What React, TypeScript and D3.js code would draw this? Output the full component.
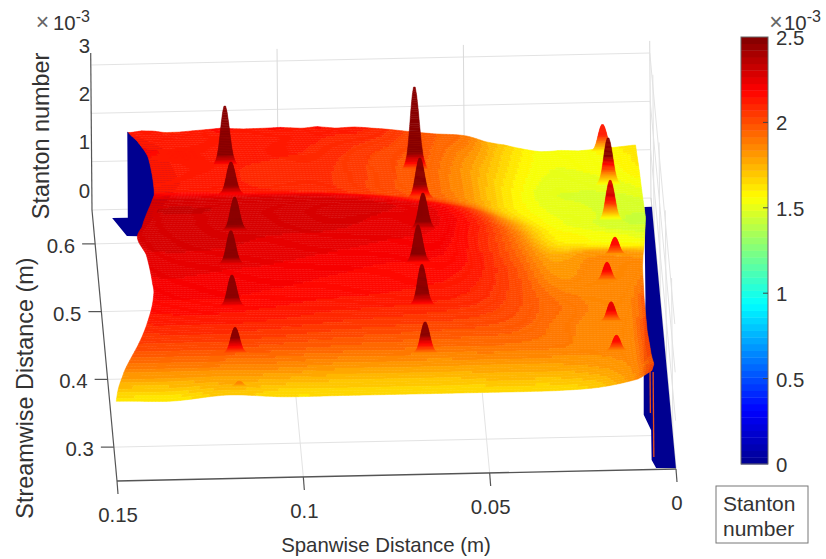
import React from "react";
import * as d3 from "d3";

const W = 826, H = 559;

// ---- data (St in units of 1e-3) ----
const spanGrid = [0.148, 0.135, 0.12, 0.105, 0.09, 0.075, 0.06, 0.05, 0.04, 0.03, 0.02, 0.01, 0.004];
const streamGrid = [0.252, 0.265, 0.28, 0.3, 0.33, 0.36, 0.4, 0.44, 0.47, 0.49, 0.505, 0.52, 0.55, 0.58, 0.612];
const row0252 = [1.62, 1.6, 1.7, 1.64, 1.64, 1.64, 1.64, 1.64, 1.64, 1.65, 1.7, 1.85, 2.1];
const row0265 = [1.72, 1.72, 1.76, 1.72, 1.7, 1.7, 1.7, 1.72, 1.72, 1.72, 1.76, 1.85, 2.05];
const row0280 = [1.86, 1.86, 1.86, 1.84, 1.8, 1.79, 1.79, 1.8, 1.8, 1.8, 1.82, 1.87, 2.08];
const row0300 = [2.0, 2.0, 2.0, 1.97, 1.94, 1.92, 1.91, 1.91, 1.9, 1.88, 1.85, 1.88, 2.1];
const row0330 = [2.1, 2.12, 2.12, 2.1, 2.07, 2.05, 2.03, 2.01, 1.97, 1.9, 1.86, 1.88, 2.1];
const row0360 = [2.17, 2.19, 2.19, 2.17, 2.15, 2.14, 2.12, 2.08, 2.0, 1.92, 1.87, 1.87, 2.05];
const row0400 = [2.22, 2.24, 2.23, 2.22, 2.2, 2.18, 2.17, 2.12, 2.0, 1.85, 1.85, 1.85, 1.9];
const row0440 = [2.26, 2.28, 2.28, 2.26, 2.25, 2.23, 2.21, 2.12, 1.95, 1.78, 1.82, 1.82, 1.8];
const row0470 = [2.28, 2.3, 2.3, 2.29, 2.29, 2.26, 2.23, 2.12, 1.9, 1.65, 1.6, 1.58, 1.58];
const row0490 = [2.28, 2.3, 2.3, 2.29, 2.29, 2.27, 2.2, 2.05, 1.8, 1.6, 1.55, 1.52, 1.5];
const row0505 = [2.24, 2.25, 2.25, 2.25, 2.24, 2.18, 2.06, 1.92, 1.7, 1.56, 1.5, 1.46, 1.45];
const row0520 = [2.15, 2.15, 2.14, 2.12, 2.1, 2.03, 1.95, 1.82, 1.63, 1.53, 1.5, 1.45, 1.44];
const row0550 = [2.15, 2.13, 2.12, 2.1, 2.08, 2.02, 1.93, 1.8, 1.62, 1.5, 1.48, 1.48, 1.5];
const row0580 = [2.15, 2.15, 2.13, 2.12, 2.1, 2.03, 1.95, 1.82, 1.65, 1.53, 1.52, 1.55, 1.6];
const row0612 = [2.12, 2.12, 2.13, 2.12, 2.12, 2.1, 1.97, 1.9, 1.68, 1.55, 1.55, 1.58, 1.62];
const stantonRows = [row0252, row0265, row0280, row0300, row0330, row0360, row0400, row0440, row0470, row0490, row0505, row0520, row0550, row0580, row0612];

// Small ripple along the back edge
const rippleSpan = [0.14, 0.137, 0.134, 0.131, 0.127, 0.123, 0.119, 0.116, 0.11, 0.104, 0.1, 0.094, 0.09, 0.085, 0.08, 0.075, 0.07, 0.05, 0.045, 0.04, 0.03, 0.025, 0.02, 0.015, 0.01];
const rippleSt = [0, 0.03, 0.02, -0.02, -0.02, 0, 0.02, 0.04, 0.02, 0.03, 0.04, 0.01, 0.04, 0, 0.02, 0, 0, 0, -0.02, 0.02, -0.01, 0.02, -0.01, 0.01, 0.02];

// Left (cut-out) and right limits of the measured surface
const leftStream = [0.252, 0.274, 0.307, 0.338, 0.366, 0.381, 0.421, 0.445, 0.46, 0.503, 0.529, 0.573, 0.598, 0.6146];
const leftSpan = [0.15, 0.148, 0.143, 0.1397, 0.138, 0.138, 0.139, 0.141, 0.1395, 0.136, 0.1352, 0.136, 0.1385, 0.1409];
const rightStream = [0.252, 0.262, 0.2765, 0.31, 0.3575, 0.417, 0.519, 0.56, 0.612];
const rightSpan = [0.0062, 0.0055, 0.006, 0.0065, 0.0065, 0.006, 0.0035, 0.004, 0.0046];

// Heated-jet spikes: span, stream, peak St
const jetSpan = [
  0.1155, 0.1147, 0.1147, 0.1165, 0.1172, 0.1173, 0.1168,
  0.0646, 0.064, 0.0642, 0.0663, 0.0662, 0.0663,
  0.0135, 0.0127, 0.013, 0.013, 0.0158, 0.0157, 0.015,
];
const jetStream = [
  0.561, 0.514, 0.453, 0.407, 0.3495, 0.295, 0.262,
  0.561, 0.514, 0.453, 0.407, 0.35, 0.295,
  0.608, 0.564, 0.5135, 0.438, 0.3985, 0.338, 0.295,
];
const jetPeak = [
  3.34, 2.84, 2.97, 2.92, 2.81, 2.49, 1.84,
  3.65, 2.84, 2.97, 2.96, 2.94, 2.52,
  2.13, 2.47, 2.3, 2.18, 2.22, 2.25, 2.16,
];
const jetHeight = [0, 0.07, 0.16, 0.3, 0.5, 0.72, 0.9, 1];
const jetWidth = [1, 0.8, 0.66, 0.54, 0.42, 0.3, 0.18, 0.07];

// Zero-valued (blue) parts of the data: [span, stream, St]
const blueLeft = [
  [0.1409, 0.6146, 2.1], [0.1406, 0.6375, 0], [0.1448, 0.6375, 0], [0.1413, 0.6106, 0],
  [0.1381, 0.61, 0], [0.128, 0.53, 2.2], [0.132, 0.59, 2.1],
];
const blueRight = [
  [0.002, 0.637, 0], [0, 0.637, 0], [0, 0.2515, 0], [0.0053, 0.252, 0], [0.0063, 0.264, 0],
  [0.0057, 0.308, 0], [0.0073, 0.331, 0], [0.0062, 0.397, 0], [0.004, 0.5, 0],
];
const edgeStrips = [
  [0.0067, 0.253, 2.0, 1.13],
  [0.0059, 0.2513, 2.0, 0.24],
];

const spanTicks = [0.15, 0.1, 0.05, 0];
const spanTickLabels = ["0.15", "0.1", "0.05", "0"];
const streamTicks = [0.3, 0.4, 0.5, 0.6];
const stantonTicks = [0, 1, 2, 3];
const colorTicks = [0, 0.5, 1, 1.5, 2, 2.5];

// ---- projection ----
const spanMin = 0, spanMax = 0.15, streamMin = 0.25, streamMax = 0.65, stMax = 3.25;
const spanToX = d3.scaleLinear().domain([spanMax, spanMin]).range([0, 559]);
const spanToY = d3.scaleLinear().domain([spanMax, spanMin]).range([0, -12]);
const streamToX = d3.scaleLinear().domain([streamMin, streamMax]).range([0, -25]);
const streamToY = d3.scaleLinear().domain([streamMin, streamMax]).range([0, -271]);
const stToY = d3.scaleLinear().domain([0, 3]).range([0, -145]);
const project = (s: number, r: number, z: number): [number, number] => [
  117 + spanToX(s) + streamToX(r) - 0.4 * z,
  481 + spanToY(s) + streamToY(r) + stToY(z),
];
const poly = (p: [number, number][]) => {
  const path = d3.path();
  p.forEach((q, i) => (i ? path.lineTo(q[0], q[1]) : path.moveTo(q[0], q[1])));
  path.closePath();
  return path.toString();
};

// ---- colours ----
const jet = d3.scaleLinear<string>()
  .domain([0, 0.125, 0.375, 0.625, 0.875, 1].map((t) => t * 2.5))
  .range(["#000090", "#0000ff", "#00ffff", "#ffff00", "#ff0000", "#800000"])
  .interpolate(d3.interpolateRgb)
  .clamp(true);
const levels = 64;
const levelColor = d3.range(levels).map((i) => jet(((i + 0.5) / levels) * 2.5));
const colorOf = (z: number) => levelColor[Math.max(0, Math.min(levels - 1, Math.floor((z / 2.5) * levels)))];

// ---- surface lookup ----
const cr = (a: number, b: number, c: number, d: number, t: number) =>
  0.5 * (2 * b + (c - a) * t + (2 * a - 5 * b + 4 * c - d) * t * t + (3 * b - a - 3 * c + d) * t * t * t);
const clampI = (i: number, n: number) => Math.max(0, Math.min(n - 1, i));
const smoothLimit = (xs: number[], ys: number[]) => {
  const idx = d3.scaleLinear().domain(xs).range(xs.map((_, i) => i)).clamp(true);
  return (x: number) => {
    const f = idx(x), i = Math.floor(f), t = f - i, n = ys.length;
    return cr(ys[clampI(i - 1, n)], ys[clampI(i, n)], ys[clampI(i + 1, n)], ys[clampI(i + 2, n)], t);
  };
};
const spanIndex = d3.scaleLinear().domain(spanGrid).range(spanGrid.map((_, i) => i)).clamp(true);
const streamIndex = d3.scaleLinear().domain(streamGrid).range(streamGrid.map((_, i) => i)).clamp(true);
const leftLimit = smoothLimit(leftStream, leftSpan);
const rightLimit = d3.scaleLinear().domain(rightStream).range(rightSpan).clamp(true);
const ripple = d3.scaleLinear().domain(rippleSpan).range(rippleSt).clamp(true);
const cell = (j: number, i: number) => stantonRows[clampI(j, stantonRows.length)][clampI(i, spanGrid.length)];
const stantonAt = (s: number, r: number) => {
  const fi = spanIndex(s), fj = streamIndex(r);
  const i = Math.floor(fi), j = Math.floor(fj), u = fi - i, v = fj - j;
  const rowAt = (jj: number) => cr(cell(jj, i - 1), cell(jj, i), cell(jj, i + 1), cell(jj, i + 2), u);
  const base = cr(rowAt(j - 1), rowAt(j), rowAt(j + 1), rowAt(j + 2), v);
  return base + ripple(s) * Math.max(0, (r - 0.6) / 0.012);
};

type Item = { stream: number; key: string; paths: { d: string; c: string }[] };

function surfaceItems(): Item[] {
  const rows = 125, cols = 150;
  const streamAt = d3.scaleLinear().domain([0, rows]).range([streamGrid[0], streamGrid[streamGrid.length - 1]]);
  const items: Item[] = [];
  for (let j = 0; j < rows; j++) {
    const r0 = streamAt(j), r1 = streamAt(j + 1);
    const groups = new Map<string, string>();
    for (let i = 0; i < cols; i++) {
      const u0 = i / cols, u1 = (i + 1) / cols;
      const s = (r: number, u: number) => leftLimit(r) + (rightLimit(r) - leftLimit(r)) * u;
      const corners: [number, number][] = [
        [s(r0, u0), r0], [s(r0, u1), r0], [s(r1, u1), r1], [s(r1, u0), r1],
      ].map(([a, b]) => project(a, b, stantonAt(a, b)));
      const c = colorOf(stantonAt(s((r0 + r1) / 2, (u0 + u1) / 2), (r0 + r1) / 2));
      groups.set(c, (groups.get(c) || "") + poly(corners));
    }
    items.push({
      stream: (r0 + r1) / 2,
      key: "s" + j,
      paths: Array.from(groups, ([c, d]) => ({ c, d })),
    });
  }
  return items;
}

function jetItems(): Item[] {
  const radius = 0.0033;
  const heightToWidth = d3.scaleLinear().domain(jetHeight).range(jetWidth);
  return jetSpan.map((s, k) => {
    const r = jetStream[k];
    const z0 = stantonAt(s, r);
    const peak = jetPeak[k];
    const scale = Math.min(1, 0.72 + (peak - z0) / 2);
    const n = 36;
    const paths: { d: string; c: string }[] = [];
    for (let i = 0; i < n; i++) {
      const t0 = i / n, t1 = (i + 1) / n;
      const z = (t: number) => z0 + (peak - z0) * t;
      const w = (t: number) => radius * scale * heightToWidth(t);
      const a = project(s + w(t0), r, z(t0));
      const b = project(s - w(t0), r, z(t0));
      const c = project(s - w(t1), r, z(t1));
      const e = project(s + w(t1), r, z(t1));
      paths.push({ d: poly([a, b, c, e]), c: colorOf(z(Math.min(1, ((t0 + t1) / 2) * 1.6))) });
    }
    return { stream: r, key: "j" + k, paths };
  });
}

const gridColor = "#e3e3e3";
const axisColor = "#555";
const textColor = "#333";
const fontFamily = "'Liberation Sans', Arial, sans-serif";

function Line({ a, b, c = gridColor, w = 1 }: { a: [number, number]; b: [number, number]; c?: string; w?: number }) {
  return <line x1={a[0]} y1={a[1]} x2={b[0]} y2={b[1]} stroke={c} strokeWidth={w} />;
}

function Exponent({ xTimes, xTen }: { xTimes: number; xTen: number }) {
  return (
    <g fill={textColor} fontFamily={fontFamily}>
      <text x={xTimes} y={30} fontSize={23} fill="#666" textAnchor="middle">×</text>
      <text x={xTen} y={30} fontSize={20.4}>10</text>
      <text x={xTen + 22.7} y={21.5} fontSize={16}>-3</text>
    </g>
  );
}

export default function App() {
  const items = React.useMemo(() => [...surfaceItems(), ...jetItems()].sort((a, b) => b.stream - a.stream), []);
  const colorY = d3.scaleLinear().domain([0, 2.5]).range([464, 37]);
  const xAxisA = project(spanMax, streamMin, 0);
  const xAxisB = project(spanMin, streamMin, 0);
  return (
    <svg width={W} height={H} viewBox={`0 0 ${W} ${H}`} style={{ position: "absolute", left: 0, top: 0, background: "#fff" }}>
      {/* grid: back wall */}
      {stantonTicks.map((z) => (
        <Line key={"bz" + z} a={project(spanMax, streamMax, z)} b={project(spanMin, streamMax, z)} />
      ))}
      {[0.1, 0.05, 0].map((s) => (
        <Line key={"bx" + s} a={project(s, streamMax, 0)} b={project(s, streamMax, stMax)} c={"#dadada"} />
      ))}
      {/* grid: floor */}
      {streamTicks.map((r) => (
        <Line key={"fy" + r} a={project(spanMax, r, 0)} b={project(spanMin, r, 0)} />
      ))}
      {[0.1, 0.05].map((s) => (
        <Line key={"fx" + s} a={project(s, streamMax, 0)} b={project(s, streamMin, 0)} />
      ))}
      {/* grid: right wall */}
      {stantonTicks.map((z) => (
        <Line key={"rz" + z} a={project(spanMin, streamMax, z)} b={project(spanMin, streamMin, z)} />
      ))}
      {streamTicks.map((r) => (
        <Line key={"ry" + r} a={project(spanMin, r, 0)} b={project(spanMin, r, stMax)} />
      ))}
      <Line a={project(spanMin, streamMax, 0)} b={project(spanMin, streamMin, 0)} c="#cfcfcf" />

      {/* axes */}
      <Line a={project(spanMax, streamMax, stMax)} b={project(spanMax, streamMax, 0)} c={axisColor} w={1.2} />
      <Line a={project(spanMax, streamMax, 0)} b={project(spanMax, streamMin, 0)} c={axisColor} w={1.2} />
      <Line a={xAxisA} b={xAxisB} c={axisColor} w={1.4} />
      {spanTicks.map((s) => {
        const p = project(s, streamMin, 0);
        return <Line key={"xt" + s} a={p} b={[p[0] + 1, p[1] + 13]} c={axisColor} w={1.2} />;
      })}
      {streamTicks.map((r) => {
        const p = project(spanMax, r, 0);
        return <Line key={"yt" + r} a={p} b={[p[0] - 13, p[1]]} c={axisColor} w={1.2} />;
      })}

      {/* blue parts */}
      <path d={poly(blueLeft.map(([s, r, z]) => project(s, r, z)))} fill="#000090" />
      <path d={poly(blueRight.map(([s, r, z]) => project(s, r, z)))} fill="#000090" />
      {edgeStrips.map(([s, r, z0, z1], i) => (
        <Line key={"st" + i} a={project(s, r, z0)} b={project(s, r, z1)} c="#e8501a" w={1.3} />
      ))}

      {/* surface and spikes, back to front */}
      {items.map((it) => (
        <g key={it.key}>
          {it.paths.map((p, i) => (
            <path key={i} d={p.d} fill={p.c} stroke={p.c} strokeWidth={0.5} />
          ))}
        </g>
      ))}

      {/* tick labels */}
      <g fontFamily={fontFamily} fontSize={20.4} fill={textColor}>
        {stantonTicks.map((z) => (
          <text key={z} x={90} y={project(spanMax, streamMax, z)[1] - 12.5} textAnchor="end">{z}</text>
        ))}
        {streamTicks.map((r) => {
          const p = project(spanMax, r, 0);
          return <text key={r} x={p[0] - 20} y={p[1] + 9} textAnchor="end">{r.toFixed(1)}</text>;
        })}
        {spanTicks.map((s, i) => {
          const p = project(s, streamMin, 0);
          return <text key={s} x={p[0] + 1} y={p[1] + 41} textAnchor="middle">{spanTickLabels[i]}</text>;
        })}
        <text x={386} y={552} textAnchor="middle">Spanwise Distance (m)</text>
        <text transform="translate(49,136) rotate(-90)" textAnchor="middle" fontSize={23.4}>Stanton number</text>
        <text transform="translate(33,388) rotate(-90)" textAnchor="middle" fontSize={23.4}>Streamwise Distance (m)</text>
        {colorTicks.map((t) => (
          <text key={t} x={776} y={colorY(t) + 8} >{t}</text>
        ))}
      </g>
      <Exponent xTimes={42.5} xTen={53} />
      <Exponent xTimes={776} xTen={784} />

      {/* colorbar */}
      {d3.range(levels).map((i) => (
        <rect
          key={i}
          x={741}
          width={27}
          y={colorY(((i + 1) / levels) * 2.5)}
          height={colorY((i / levels) * 2.5) - colorY(((i + 1) / levels) * 2.5) + 0.4}
          fill={levelColor[i]}
        />
      ))}
      <rect x={741} y={37} width={27} height={427} fill="none" stroke="#666" strokeWidth={1} />
      {colorTicks.slice(1, -1).map((t) => (
        <line key={t} x1={763} x2={768} y1={colorY(t)} y2={colorY(t)} stroke="#444" />
      ))}

      {/* legend */}
      <rect x={716} y={486} width={92} height={57} fill="#fff" stroke="#777" strokeWidth={1} />
      <g fontFamily={fontFamily} fontSize={21} fill={textColor}>
        <text x={723} y={510.5}>Stanton</text>
        <text x={723} y={535.5}>number</text>
      </g>
    </svg>
  );
}
